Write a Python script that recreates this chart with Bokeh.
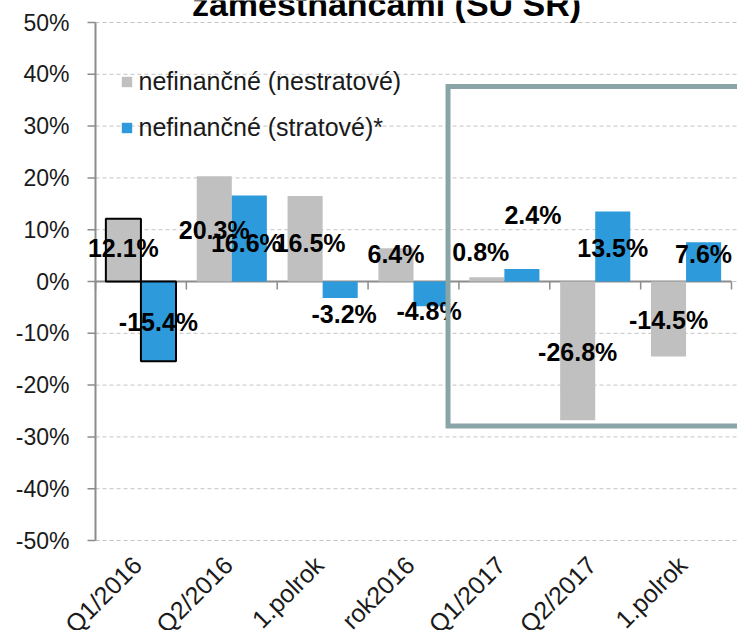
import math
from bokeh.plotting import figure
from bokeh.models import ColumnDataSource, Range1d, Legend, LegendItem, CDSView, IndexFilter
from bokeh.transform import dodge
from bokeh.core.properties import value
from bokeh.embed import file_html
from bokeh.resources import INLINE

# ---- data ----
categories = ["Q1/2016", "Q2/2016", "1.polrok", "rok2016", "Q1/2017", "Q2/2017", "1.polrok"]
series_names = ["nefinančné (nestratové)", "nefinančné (stratové)*"]
gray_vals = [12.1, 20.3, 16.5, 6.4, 0.8, -26.8, -14.5]
blue_vals = [-15.4, 16.6, -3.2, -4.8, 2.4, 13.5, 7.6]
# where the value labels sit (y in % units, small horizontal nudges in px)
gray_label_y = [6.4, 9.9, 7.5, 5.4, 5.6, -13.7, -7.5]
blue_label_y = [-7.9, 7.5, -6.2, -5.6, 12.8, 6.4, 5.4]
gray_label_dx = [0, 0, 5, 0, -6, 0, 0]
blue_label_dx = [0, -3, 4, -2, 11, 0, 0]
y_ticks = [-50, -40, -30, -20, -10, 0, 10, 20, 30, 40, 50]
title_text = "zamestnancami (ŠÚ SR)"

FONT = "Liberation Sans"
GRAY = "#c0c0c0"
BLUE = "#2d9adc"
BOX = "#8aa5a7"
TXT = "#1a1a1a"
AXIS = "#8c8c8c"

# ---- layout (pixels) ----
WIDTH, HEIGHT = 737, 630
AX_LEFT = 95            # x of the value axis
CAT_END = 731           # x where the last category ends
TOP_PX = 22             # y of the top tick (50 %)
VALUE_SPAN_PX = 518     # pixels from top tick to bottom tick
CAT_PX = (CAT_END - AX_LEFT) / len(categories)
PX_PER_UNIT = VALUE_SPAN_PX / (y_ticks[-1] - y_ticks[0])
ZERO_PX = TOP_PX + y_ticks[-1] * PX_PER_UNIT

def dx(px):
    return px / CAT_PX

def dy(px):
    return px / PX_PER_UNIT

x_max = dx(WIDTH - AX_LEFT)
y_top = dy(ZERO_PX)
p = figure(width=WIDTH, height=HEIGHT, output_backend="svg", toolbar_location=None,
           x_range=Range1d(-dx(AX_LEFT), x_max),
           y_range=Range1d(-dy(HEIGHT - ZERO_PX), y_top),
           x_axis_type=None, y_axis_type=None,
           min_border_left=0, min_border_right=0, min_border_top=0, min_border_bottom=0)
p.outline_line_color = None
p.background_fill_color = "white"
p.border_fill_color = "white"

W = 0.386  # bar width as a fraction of a category
xc = [i + 0.5 for i in range(len(categories))]
n = len(y_ticks)

# horizontal dashed grid lines
p.segment(x0=[0] * n, y0=y_ticks, x1=[x_max] * n, y1=y_ticks,
          line_color="#c4c4c4", line_width=1, line_dash="4 3")

# value axis: line, ticks, labels
p.segment(x0=[0], y0=[y_ticks[0]], x1=[0], y1=[y_ticks[-1]], line_color=AXIS, line_width=2)
p.segment(x0=[-dx(8)] * n, y0=y_ticks, x1=[0] * n, y1=y_ticks, line_color=AXIS, line_width=1.5)
p.text(x=[-dx(26)] * n, y=y_ticks, text=[f"{t}%" for t in y_ticks],
       text_font=value(FONT), text_font_size="23px", text_color=TXT,
       text_align="right", text_baseline="middle")

# category axis at zero: line and boundary ticks
bounds = list(range(len(categories) + 1))
p.segment(x0=[0], y0=[0], x1=[len(categories)], y1=[0], line_color=AXIS, line_width=2)
p.segment(x0=bounds, y0=[0] * len(bounds), x1=bounds, y1=[-dy(8)] * len(bounds),
          line_color=AXIS, line_width=1.5)

# category names, rotated, below the value range
p.text(x=[x - dx(3.6) for x in xc], y=[y_ticks[0] - dy(20)] * len(xc), text=categories,
       angle=math.pi / 4, text_align="right", text_baseline="middle",
       text_font=value(FONT), text_font_size="25px", text_color=TXT)

# bars
src = ColumnDataSource(dict(x=xc, gray=gray_vals, blue=blue_vals))
g = p.vbar(x=dodge("x", -W / 2), top="gray", bottom=0, width=W,
           fill_color=GRAY, line_color=None, source=src)
b = p.vbar(x=dodge("x", W / 2), top="blue", bottom=0, width=W,
           fill_color=BLUE, line_color=None, source=src)
# highlighted first group (black outline)
hv = CDSView(filter=IndexFilter([0]))
p.vbar(x=dodge("x", -W / 2), top="gray", bottom=0, width=W,
       fill_color=None, line_color="black", line_width=2, source=src, view=hv)
p.vbar(x=dodge("x", W / 2), top="blue", bottom=0, width=W,
       fill_color=None, line_color="black", line_width=2, source=src, view=hv)

# value labels
for side, vals, ys, dxs in [(-1, gray_vals, gray_label_y, gray_label_dx),
                            (1, blue_vals, blue_label_y, blue_label_dx)]:
    p.text(x=[x + side * W / 2 + dx(d) for x, d in zip(xc, dxs)], y=ys,
           text=[f"{v:.1f}%" for v in vals],
           text_font=value(FONT), text_font_style="bold", text_font_size="25px",
           text_color="black", text_align="center", text_baseline="middle")

# highlight frame around the 2017 groups (runs off the right edge)
box_left, box_top, box_bottom = 3.88, 37.65, -27.9
p.line(x=[x_max + 0.5, box_left, box_left, x_max + 0.5],
       y=[box_top, box_top, box_bottom, box_bottom],
       line_color=BOX, line_width=5, line_join="miter")

# legend
legend = Legend(items=[LegendItem(label=series_names[0], renderers=[g]),
                       LegendItem(label=series_names[1], renderers=[b])],
                location=(AX_LEFT + 24.5, HEIGHT - 141.5), orientation="vertical",
                glyph_width=13, glyph_height=13, label_height=25, spacing=17,
                label_standoff=6, padding=0, margin=0,
                border_line_color=None, background_fill_alpha=0,
                label_text_font=FONT, label_text_font_size="25px", label_text_color=TXT)
p.add_layout(legend)

# title (its upper part runs off the top edge, as in the source)
p.text(x=[dx(386 - AX_LEFT)], y=[y_top - dy(3.2)], text=[title_text],
       text_font=value(FONT), text_font_style="bold", text_font_size="34px",
       text_align="center", text_baseline="middle", text_color="black")

open("out.html", "w").write(file_html(p, INLINE))
